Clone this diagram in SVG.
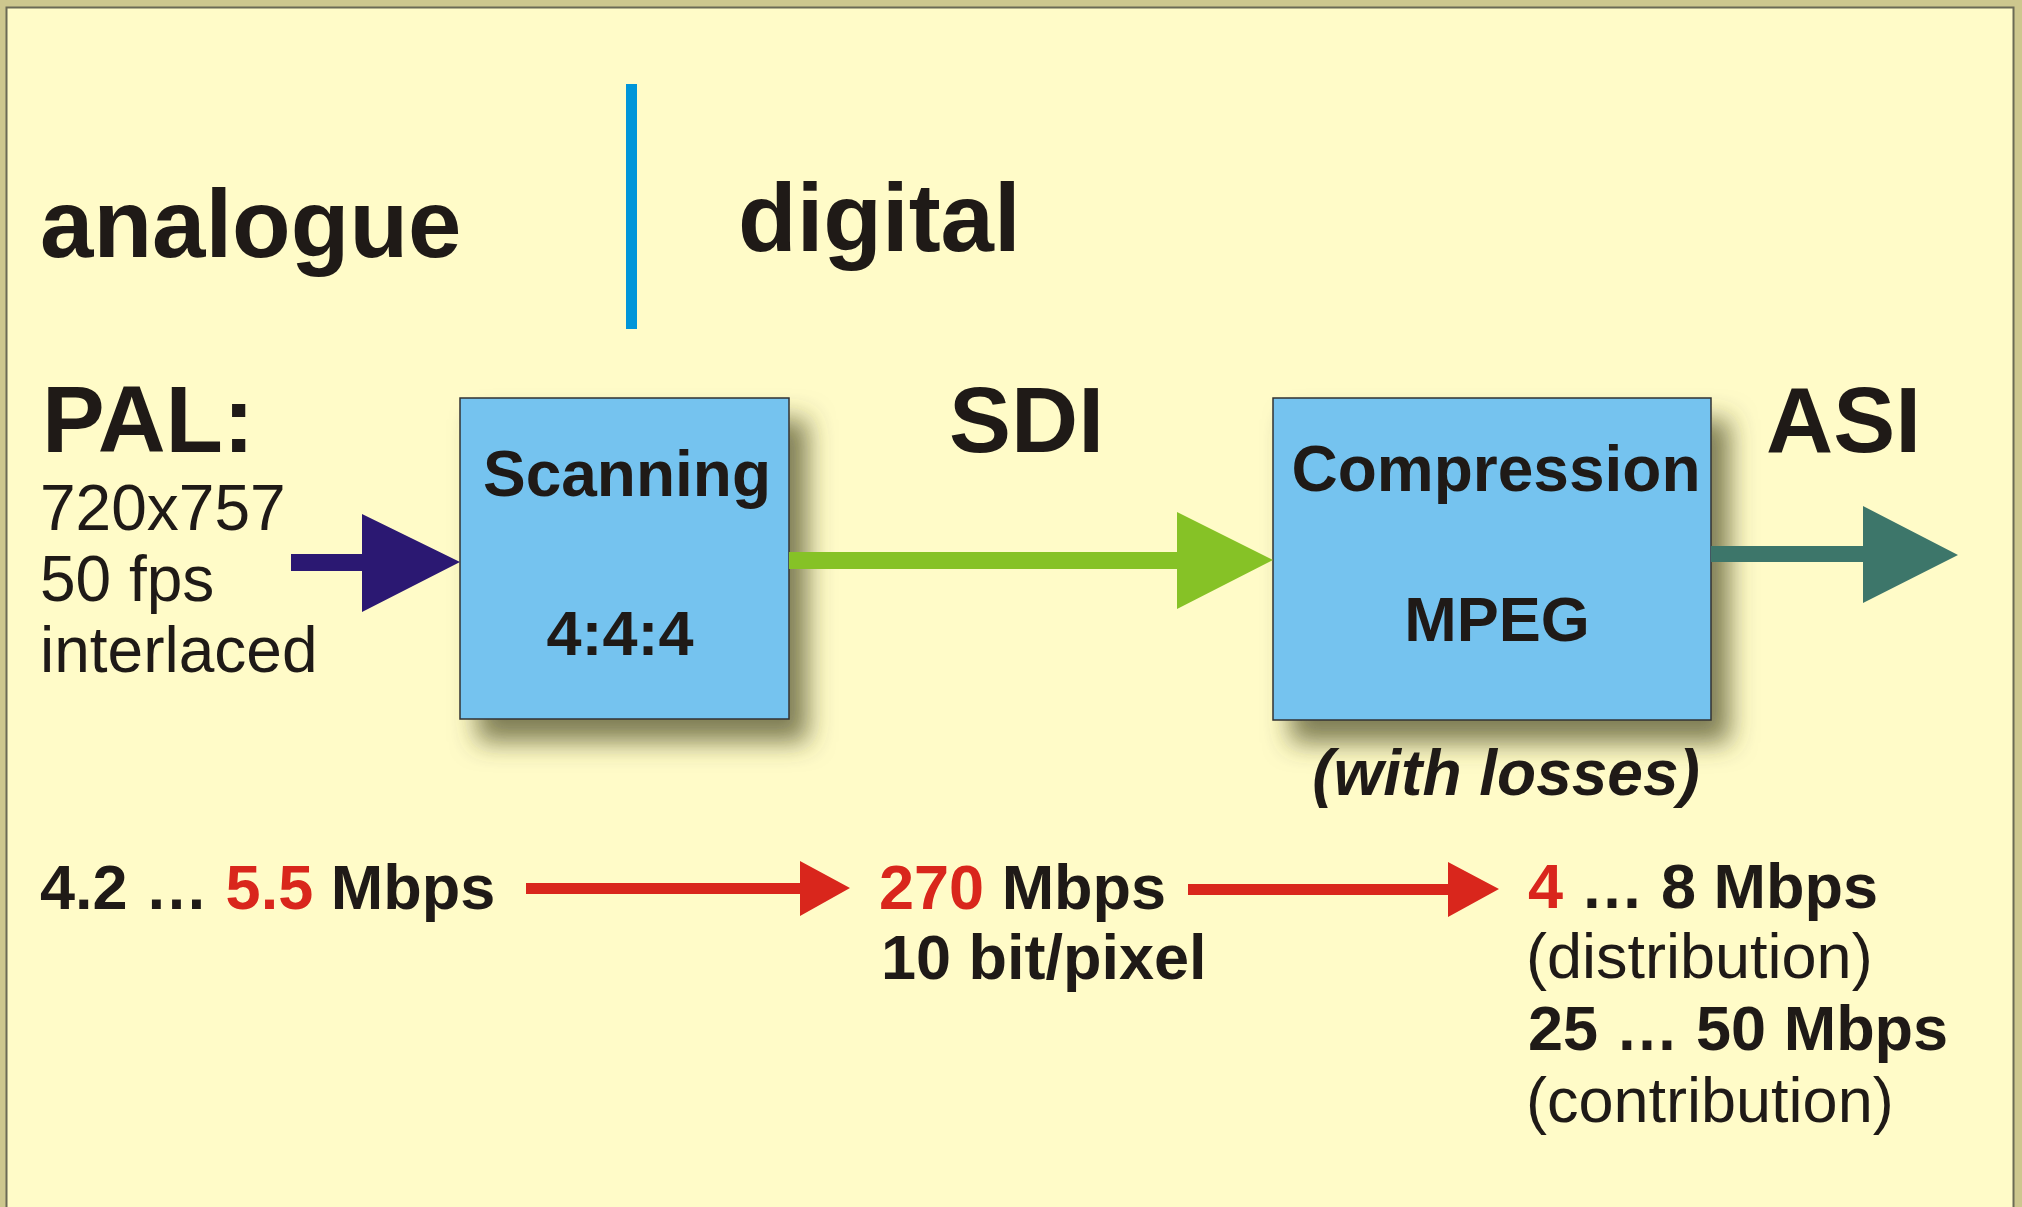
<svg xmlns="http://www.w3.org/2000/svg" width="2022" height="1207" viewBox="0 0 2022 1207">
<defs>
<filter id="sh" x="-30%" y="-30%" width="170%" height="170%">
<feDropShadow dx="18" dy="22" stdDeviation="13" flood-color="#4a4a20" flood-opacity="0.7"/>
</filter>
</defs>
<style>
.b{font-family:"Liberation Sans",Arial,sans-serif;font-weight:bold;fill:#1f1a17}
.r{font-family:"Liberation Sans",Arial,sans-serif;font-weight:normal;fill:#1f1a17}
.red{fill:#d9261c}
.box{fill:#75c3ef;stroke:#333;stroke-width:1.5}
</style>
<rect x="0" y="0" width="2022" height="1207" fill="#cdc78e"/>
<rect x="6.5" y="7.5" width="2007" height="1210" fill="#fffbc8" stroke="#6b6a55" stroke-width="2"/>
<rect x="626" y="84" width="11" height="245" fill="#0095d9"/>
<text class="b" x="40" y="257" font-size="96">analogue</text>
<text class="b" x="738" y="251" font-size="96">digital</text>
<text class="b" x="42" y="452" font-size="94">PAL:</text>
<text class="r" x="40" y="530" font-size="64">720x757</text>
<text class="r" x="40" y="601" font-size="64">50 fps</text>
<text class="r" x="40" y="672" font-size="64">interlaced</text>
<text class="b" x="949" y="452" font-size="93">SDI</text>
<text class="b" x="1766" y="452" font-size="93">ASI</text>
<g id="scanning">
<rect class="box" x="460" y="398" width="329" height="321" filter="url(#sh)"/>
<text class="b" x="627" y="496" font-size="64" text-anchor="middle">Scanning</text>
<text class="b" x="620" y="655" font-size="63" text-anchor="middle">4:4:4</text>
</g>
<g id="compression">
<rect class="box" x="1273" y="398" width="438" height="322" filter="url(#sh)"/>
<text class="b" x="1496" y="491" font-size="64" text-anchor="middle">Compression</text>
<text class="b" x="1497" y="641" font-size="63" text-anchor="middle">MPEG</text>
<text class="b" x="1506" y="795" font-size="64" font-style="italic" text-anchor="middle">(with losses)</text>
</g>
<g id="connectors">
<polygon fill="#2b1872" points="291,554 362,554 362,514 460,562 362,612 362,571 291,571"/>
<polygon fill="#86c226" points="789,552 1177,552 1177,512 1273,560 1177,609 1177,569 789,569"/>
<polygon fill="#3d766a" points="1711,546 1863,546 1863,506 1958,555 1863,603 1863,562 1711,562"/>
<polygon fill="#d9261c" points="526,883 800,883 800,861 850,888 800,916 800,894 526,894"/>
<polygon fill="#d9261c" points="1188,884 1448,884 1448,862 1499,889 1448,917 1448,895 1188,895"/>
</g>
<g id="rates">
<text class="b" x="40" y="909" font-size="63">4.2 … <tspan class="red">5.5</tspan> Mbps</text>
<text class="b" x="879" y="909" font-size="63"><tspan class="red">270</tspan> Mbps</text>
<text class="b" x="881" y="979" font-size="63">10 bit/pixel</text>
<text class="b" x="1528" y="908" font-size="63"><tspan class="red">4</tspan> … 8 Mbps</text>
<text class="r" x="1526" y="978" font-size="63">(distribution)</text>
<text class="b" x="1528" y="1050" font-size="63">25 … 50 Mbps</text>
<text class="r" x="1526" y="1122" font-size="63">(contribution)</text>
</g>
</svg>
